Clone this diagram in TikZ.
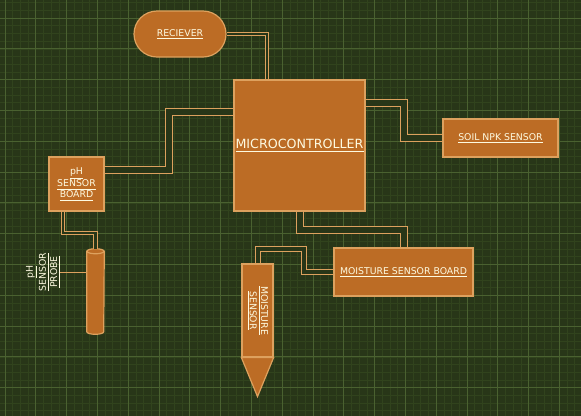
\documentclass[tikz,border=0pt]{standalone}
\usepackage{fontspec}
\setmainfont{DejaVu Sans}
\usepackage{xcolor}
\usepackage{tikz}
\usetikzlibrary{calc}

\definecolor{bgGreen}{HTML}{283618}
\definecolor{gridMinor}{HTML}{31431D}
\definecolor{gridMajor}{HTML}{4A6130}
\definecolor{boxFill}{HTML}{BC6C25}
\definecolor{boxLine}{HTML}{DDA15E}
\definecolor{boxText}{HTML}{FEFAE0}

\newcommand{\lbl}[1]{\underline{#1}}

\begin{document}
\begin{tikzpicture}[x=0.75pt, y=-0.75pt,
      block_node/.style={
         rectangle,
         draw=boxLine,
         fill=boxFill,
         line width=0.9pt,
         inner sep=0pt,
         text=boxText,
         align=center,
         font=\fontsize{7}{8.2}\selectfont},
      round_node/.style={
         block_node,
         rounded corners=17.25pt},
      probe_node/.style={
         rectangle,
         inner sep=0pt,
         minimum width=12.75pt,
         minimum height=60pt},
      rot_text/.style={
         inner sep=0pt,
         text=boxText,
         align=center,
         font=\fontsize{7}{8.5}\selectfont},
      cyl_body/.style={
         draw=boxLine,
         fill=boxFill,
         line width=0.9pt},
      link_wide/.style={
         draw=boxLine,
         line width=0.75pt,
         double=bgGreen,
         double distance=4.5pt},
      link_narrow/.style={
         link_wide,
         double distance=1.75pt},
      link_thin/.style={
         draw=boxLine,
         line width=0.75pt},
      grid_minor/.style={
         draw=gridMinor,
         line width=0.35pt,
         step=5.775pt},
      grid_major/.style={
         draw=gridMajor,
         line width=0.6pt,
         step=23.1pt}
]
      %background
      \useasboundingbox (0,0) rectangle (581,415);
      \fill[bgGreen] (-3,-3) rectangle (584,418);
      \begin{scope}
        \clip (-3,-3) rectangle (584,418);
        \begin{scope}[shift={(35.7,18)}]
          \draw[grid_minor] (-40,400) grid (550,-22);
          \draw[grid_major] (-40,400) grid (550,-22);
        \end{scope}
      \end{scope}

      %blocks
      \node[round_node, minimum width=69pt, minimum height=34.5pt] (rcv) at (180,34) {\lbl{RECIEVER}};
      \node[block_node, minimum width=98.25pt, minimum height=98.25pt,
            font=\fontsize{9.5}{11}\selectfont] (mcu) at (299.5,145.5) {\lbl{MICROCONTROLLER}};
      \node[block_node, minimum width=41.25pt, minimum height=40.5pt] (phb) at (76.5,184)
           {\lbl{pH}\\\lbl{SENSOR}\\\lbl{BOARD}};
      \node[block_node, minimum width=86.25pt, minimum height=28.5pt] (npk) at (500.5,138) {\lbl{SOIL NPK SENSOR}};
      \node[block_node, minimum width=104.25pt, minimum height=36pt] (msb) at (403.5,272) {\lbl{MOISTURE SENSOR BOARD}};

      %moisture sensor
      \node[block_node, minimum width=23.25pt, minimum height=69.75pt] (msens) at (257.5,310.5) {};
      \filldraw[cyl_body] (msens.south west) -- ($(msens.south)+(0,39)$) -- (msens.south east) -- cycle;
      \node[rot_text, rotate=-90] (mtext) at (msens) {\lbl{MOISTURE}\\\lbl{SENSOR}};

      %ph probe
      \node[probe_node] (probe) at (95.5,291.5) {};
      \filldraw[cyl_body] (probe.north west) -- (probe.south west)
          arc[start angle=180, end angle=360, x radius=6.375pt, y radius=1.9pt] -- (probe.north east) -- cycle;
      \filldraw[cyl_body] (probe.north) ellipse [x radius=6.375pt, y radius=1.9pt];
      \node[rot_text, rotate=90] (ptext) at (43,272) {\lbl{pH}\\\lbl{SENSOR}\\\lbl{PROBE}};

      %links
      \draw[link_narrow] (rcv.east) -| ($(mcu.north west)+(33.7,0)$);
      \draw[link_wide] ($(phb.north east)+(0,13.7)$) -| ($(mcu.north west)+(-64.5,33)$) -- ($(mcu.north west)+(0,33)$);
      \draw[link_wide] ($(mcu.north east)+(0,23.3)$) -| ($(npk.west)+(-38.5,0)$) -- (npk.west);
      \draw[link_wide] (mcu.south) |- ($(msb.north)+(0,-17.5)$) -- (msb.north);
      \draw[link_wide, double distance=3pt] (msb.west) -| ($(msens.north)+(46.5,-14.2)$) -| (msens.north);
      \draw[link_narrow] ($(phb.south west)+(14.8,0)$) |- ($(probe.north)+(0,-18.3)$) -- ($(probe.north)+(0,-2.5)$);
      \draw[link_thin] (ptext.south) -- (ptext.south -| probe.west);

\end{tikzpicture}
\end{document}
